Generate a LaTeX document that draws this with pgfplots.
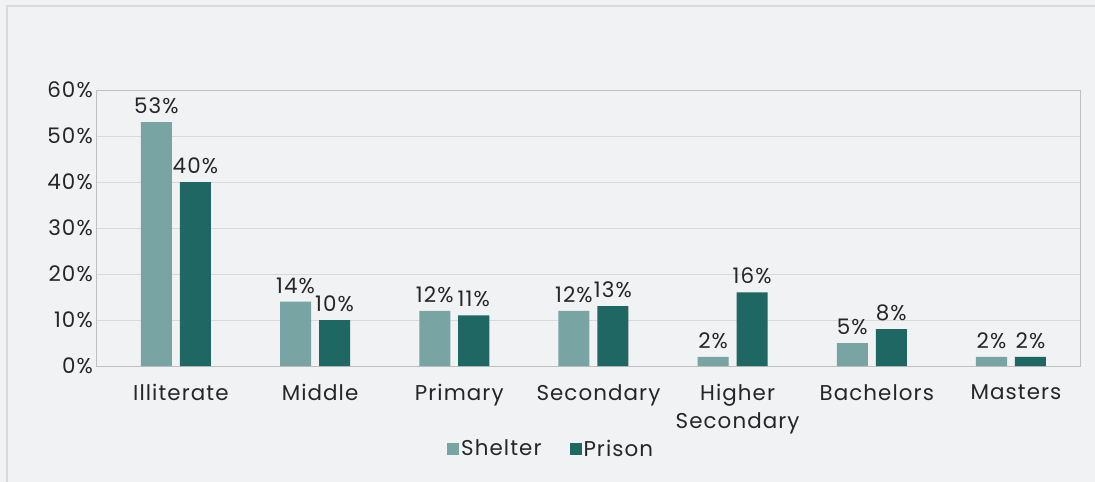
\documentclass[border=0pt]{standalone}
\usepackage{pgfplots}
\pgfplotsset{compat=1.18}
\usepackage{fontspec}
\setmainfont{Poppins}[LetterSpace=5]
\definecolor{bg}{HTML}{F1F2F4}
\definecolor{shelter}{HTML}{78A5A3}
\definecolor{prison}{HTML}{1F6763}
\definecolor{txt}{HTML}{262626}
\definecolor{gridc}{HTML}{D9D9D9}
\definecolor{framec}{HTML}{BFBFBF}
\begin{document}
\begin{tikzpicture}
\useasboundingbox (-97bp,-116bp) rectangle (998bp,366bp);
\fill[bg] (-97bp,-116bp) rectangle (998bp,366bp);
\draw[gridc, line width=1.5bp] (-90bp,-120bp) -- (-90bp,360bp) -- (1000bp,360bp);
\begin{axis}[
  at={(0,0)}, anchor=south west,
  scale only axis, width=983bp, height=276bp,
  xmin=-0.567, xmax=6.496, ymin=0, ymax=60,
  ybar, bar width=0.223,
  xtick={0,1,2,3,4,5,6},
  xticklabels={Illiterate,Middle,Primary,Secondary,{Higher\\Secondary},Bachelors,Masters},
  ytick={0,10,20,30,40,50,60},
  yticklabel={\pgfmathprintnumber{\tick}\%},
  major tick length=0pt,
  /pgf/number format/assume math mode=true,
  ymajorgrids, grid style={gridc, line width=1bp},
  axis line style={framec, line width=1bp},
  tick label style={font=\fontsize{21.5}{28}\selectfont, text=txt},
  xticklabel style={inner sep=0pt, yshift=-18bp, xshift=5bp, align=center},
  yticklabel style={inner sep=0pt, xshift=-4bp},
  nodes near coords={\pgfmathprintnumber{\pgfplotspointmeta}\%},
  every node near coord/.append style={font=\fontsize{21.5}{24}\selectfont, text=txt, inner sep=0pt, yshift=8bp},
  legend style={at={(0.462,-0.30)}, anchor=center, draw=none, fill=none, legend columns=2,
    font=\fontsize{21.5}{24}\selectfont, text=txt,
    /tikz/every even column/.append style={column sep=26bp}},
  legend image code/.code={\fill[#1] (0bp,-6bp) rectangle (12bp,6bp);},
]
\addplot[fill=shelter, draw=none, bar shift=-0.14] coordinates {(0,53) (1,14) (2,12) (3,12) (4,2) (5,5) (6,2)};
\addplot[fill=prison, draw=none, bar shift=0.14] coordinates {(0,40) (1,10) (2,11) (3,13) (4,16) (5,8) (6,2)};
\legend{Shelter,Prison}
\end{axis}
\end{tikzpicture}
\end{document}
